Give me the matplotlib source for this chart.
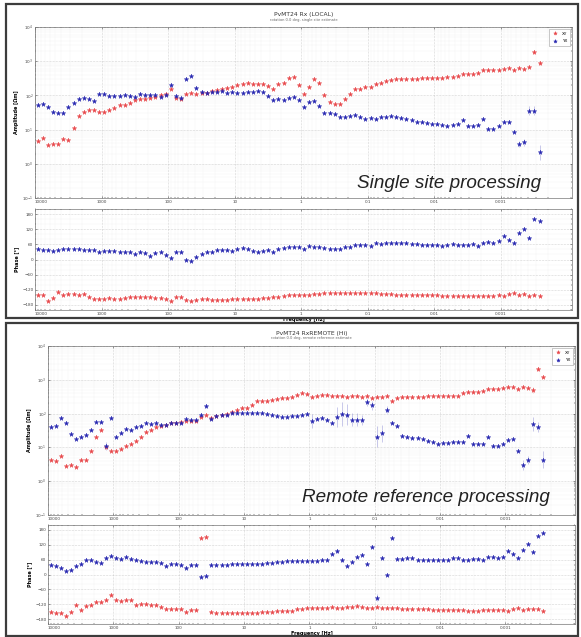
import numpy as np
import matplotlib.pyplot as plt
from matplotlib.patches import Rectangle
from matplotlib.colors import to_rgba
from matplotlib.ticker import LogLocator, NullFormatter, FixedLocator, MultipleLocator

W, H = 581, 637

# frequencies [Hz], same grid for both processing runs
freq = [9120, 7640, 6400, 5360, 4490, 3760, 3150, 2640, 2210, 1850, 1550, 1300, 1090,
        912, 764, 640, 536, 449, 376, 315, 264, 221, 185, 155, 130, 109,
        91.2, 76.4, 64.0, 53.6, 44.9, 37.6, 31.5, 26.4, 22.1, 18.5, 15.5, 13.0, 10.9,
        9.12, 7.64, 6.40, 5.36, 4.49, 3.76, 3.15, 2.64, 2.21, 1.85, 1.55, 1.30, 1.09,
        0.912, 0.764, 0.640, 0.536, 0.449, 0.376, 0.315, 0.264, 0.221, 0.185, 0.155, 0.130, 0.109,
        0.0912, 0.0764, 0.0640, 0.0536, 0.0449, 0.0376, 0.0315, 0.0264, 0.0221, 0.0185, 0.0155, 0.0130, 0.0109,
        0.00912, 0.00764, 0.00640, 0.00536, 0.00449, 0.00376, 0.00315, 0.00264, 0.00221, 0.00185, 0.00155, 0.00130, 0.00109,
        9.12e-4, 7.64e-4, 6.40e-4, 5.36e-4, 4.49e-4, 3.76e-4, 3.15e-4, 2.64e-4]

# single site: log10 apparent resistivity
top_xy_rho = [0.66, 0.75, 0.54, 0.57, 0.58, 0.72, 0.71, 1.04, 1.41, 1.52, 1.56, 1.57, 1.52, 1.52, 1.57,
              1.64, 1.72, 1.73, 1.79, 1.87, 1.89, 1.90, 1.91, 1.96, 2.00, 2.03, 2.20, 1.92, 1.90, 2.03,
              2.07, 2.05, 2.07, 2.07, 2.12, 2.15, 2.18, 2.21, 2.26, 2.30, 2.33, 2.37, 2.34, 2.34, 2.33,
              2.28, 2.19, 2.33, 2.37, 2.51,
              2.55, 2.30, 2.05, 2.26, 2.47, 2.37, 2.01, 1.81, 1.74, 1.74, 1.90, 2.04, 2.20, 2.18, 2.24,
              2.24, 2.32, 2.37, 2.42, 2.45, 2.49, 2.49, 2.48, 2.48, 2.49, 2.50, 2.51, 2.51, 2.51, 2.52,
              2.53, 2.53, 2.57, 2.62, 2.63, 2.64, 2.66, 2.73, 2.73, 2.74, 2.75, 2.77, 2.79, 2.73, 2.81,
              2.77, 2.83, 3.28, 2.94]
top_yx_rho = [1.72, 1.76, 1.65, 1.52, 1.49, 1.49, 1.65, 1.78, 1.89, 1.92, 1.90, 1.84, 2.05, 2.04, 1.97,
              1.99, 1.98, 2.01, 1.97, 1.95, 2.03, 2.00, 2.02, 2.02, 1.95, 2.01, 2.31, 1.98, 1.93, 2.48,
              2.58, 2.21, 2.11, 2.08, 2.10, 2.10, 2.12, 2.08, 2.10, 2.08, 2.08, 2.09, 2.10, 2.14, 2.11,
              1.97, 1.87, 1.89, 1.87, 1.92,
              1.96, 1.87, 1.65, 1.82, 1.84, 1.70, 1.49, 1.49, 1.46, 1.38, 1.36, 1.41, 1.43, 1.37, 1.31,
              1.34, 1.30, 1.37, 1.38, 1.39, 1.36, 1.35, 1.30, 1.27, 1.21, 1.22, 1.18, 1.17, 1.15, 1.14,
              1.11, 1.12, 1.15, 1.28, 1.10, 1.10, 1.12, 1.30, 1.03, 1.03, 1.10, 1.23, 1.22, 0.94, 0.58,
              0.63, 1.55, 1.55, 0.34]
# single site: phase [deg]
top_xy_phs = [-139, -140, -165, -154, -129, -141, -135, -136, -140, -135, -150, -156, -156, -156, -154,
              -156, -156, -152, -150, -150, -149, -150, -150, -154, -154, -156, -164, -150, -149, -161,
              -165, -160, -158, -158, -160, -160, -160, -160, -157, -156, -156, -156, -157, -157, -154,
              -152, -149, -150, -145, -141,
              -139, -139, -141, -141, -135, -135, -131, -131, -132, -131, -131, -132, -132, -133, -132,
              -131, -133, -135, -136, -136, -139, -139, -139, -139, -140, -140, -140, -141, -141, -143,
              -143, -144, -144, -144, -145, -145, -144, -144, -143, -144, -141, -146, -137, -133, -141,
              -135, -144, -139, -144]
top_yx_phs = [40, 37, 37, 34, 38, 42, 41, 40, 40, 36, 36, 37, 30, 32, 33, 32, 30, 29, 29, 22,
              29, 24, 13, 26, 28, 16, 5, 28, 30, -3, -4, 9, 22, 28, 29, 36, 36, 38, 34, 42,
              44, 40, 32, 29, 32, 36, 29, 42, 46, 49,
              50, 48, 42, 53, 50, 50, 45, 42, 41, 42, 50, 50, 57, 57, 58, 55, 65, 63, 65, 65,
              65, 65, 66, 61, 61, 58, 57, 57, 57, 54, 58, 61, 57, 58, 59, 61, 55, 67, 70, 66,
              73, 92, 79, 65, 103, 119, 87, 161, 153]

# remote reference: log10 apparent resistivity
bot_xy_rho = [0.64, 0.60, 0.75, 0.44, 0.47, 0.43, 0.62, 0.62, 0.90, 1.30, 1.52, 1.01, 0.90, 0.88, 0.95,
              1.05, 1.11, 1.19, 1.32, 1.47, 1.52, 1.60, 1.64, 1.66, 1.72, 1.73, 1.74, 1.79, 1.78, 1.78,
              1.89, 1.95, 1.87, 1.93, 1.97, 1.99, 2.06, 2.12, 2.16, 2.16, 2.26, 2.36, 2.36, 2.38, 2.40,
              2.43, 2.46, 2.47, 2.50,
              2.55, 2.61, 2.58, 2.49, 2.53, 2.56, 2.55, 2.52, 2.52, 2.51, 2.49, 2.52, 2.51, 2.49, 2.53,
              2.47, 2.49, 2.50, 2.51, 2.36, 2.47, 2.48, 2.49, 2.49, 2.49, 2.50, 2.51, 2.51, 2.51, 2.52,
              2.52, 2.53, 2.53, 2.60, 2.63, 2.63, 2.65, 2.68, 2.73, 2.73, 2.73, 2.75, 2.80, 2.80, 2.74,
              2.80, 2.76, 2.70, 3.31, 3.08]
bot_yx_rho = [1.60, 1.64, 1.87, 1.73, 1.39, 1.25, 1.30, 1.36, 1.52, 1.74, 1.74, 1.05, 1.87, 1.32, 1.42,
              1.54, 1.51, 1.61, 1.63, 1.72, 1.70, 1.71, 1.66, 1.66, 1.73, 1.73, 1.73, 1.85, 1.81, 1.81,
              1.97, 2.22, 1.85, 1.93, 1.95, 1.97, 2.01, 2.02, 2.01, 2.02, 2.02, 2.03, 2.02, 2.00, 1.97,
              1.93, 1.91, 1.90, 1.94,
              1.93, 1.97, 1.99, 1.78, 1.84, 1.87, 1.81, 1.72, 1.91, 1.99, 1.97, 1.82, 1.82, 1.82, 2.34,
              2.24, 1.32, 1.42, 2.12, 1.72, 1.63, 1.35, 1.32, 1.29, 1.29, 1.25, 1.20, 1.17, 1.10, 1.13,
              1.14, 1.15, 1.15, 1.15, 1.35, 1.09, 1.09, 1.11, 1.30, 1.03, 1.03, 1.11, 1.23, 1.25, 0.90,
              0.49, 0.63, 1.70, 1.61, 0.63]
# remote reference: phase [deg]
bot_xy_phs = [-153, -155, -154, -167, -153, -124, -145, -128, -124, -112, -112, -103, -84, -104, -109,
              -105, -105, -123, -119, -120, -124, -123, -130, -141, -138, -141, -141, -151, -142, -142,
              146, 151, -153, -154, -156, -157, -157, -157, -157, -156, -156, -154, -153, -150, -150,
              -149, -148, -146, -146,
              -139, -138, -137, -137, -135, -134, -134, -131, -135, -135, -132, -132, -128, -132, -134,
              -134, -132, -134, -135, -137, -137, -138, -139, -139, -139, -141, -141, -142, -142, -142,
              -142, -143, -143, -145, -146, -148, -149, -145, -145, -145, -145, -143, -146, -139, -134,
              -143, -138, -139, -141, -148]
bot_yx_phs = [38, 34, 28, 13, 20, 36, 43, 57, 57, 51, 47, 66, 74, 66, 64, 69, 62, 57, 55, 50,
              51, 50, 48, 35, 42, 42, 39, 28, 39, 39, -11, -8, 38, 39, 39, 39, 42, 42, 42, 43,
              43, 44, 44, 46, 47, 50, 50, 53, 53,
              53, 53, 53, 55, 55, 57, 57, 82, 93, 60, 34, 51, 69, 77, 42, 113, -93, 68, -1, 146,
              61, 64, 68, 67, 60, 58, 58, 60, 60, 60, 60, 65, 65, 58, 60, 61, 64, 57, 69, 72,
              67, 72, 93, 84, 67, 99, 124, 89, 157, 169]

# error bar half widths (decades for resistivity, degrees for phase) at noisy points
top_xy_rho_err = {97: 0.06, 98: 0.05}
top_yx_rho_err = {94: 0.08, 95: 0.10, 96: 0.13, 97: 0.13, 98: 0.22}
bot_xy_rho_err = {96: 0.10, 97: 0.06}
bot_yx_rho_err = {11: 0.12, 30: 0.06, 31: 0.05, 52: 0.2, 57: 0.3, 58: 0.35, 59: 0.3, 60: 0.2,
                  61: 0.2, 62: 0.15, 63: 0.12, 64: 0.12, 65: 0.3, 66: 0.25, 67: 0.1,
                  94: 0.15, 95: 0.12, 96: 0.2, 97: 0.15, 98: 0.25}
bot_yx_phs_err = {57: 8, 58: 8, 65: 15}

freq_ticks = [1e4, 1e3, 1e2, 1e1, 1, 0.1, 0.01, 0.001]
freq_labels = ['10000', '1000', '100', '10', '1', '0.1', '0.01', '0.001']

RED = '#e8474a'
BLUE = '#2626b0'

fig = plt.figure(figsize=(W / 100, H / 100), dpi=100)


def px_axes(l, t, r, b):
    return fig.add_axes([l / W, 1 - b / H, (r - l) / W, (b - t) / H])


def frame(l, t, r, b):
    fig.patches.append(Rectangle((l / W, 1 - b / H), (r - l) / W, (b - t) / H,
                                 transform=fig.transFigure, fill=False, ec='#3c3c3c', lw=1.6))


def style(ax):
    ax.set_xscale('log')
    ax.set_xlim(1e4, 8.6e-5)
    ax.set_xticks(freq_ticks)
    ax.set_xticklabels(freq_labels)
    ax.get_xticklabels()[0].set_ha('left')
    ax.xaxis.set_minor_locator(LogLocator(subs=np.arange(2, 10)))
    ax.xaxis.set_minor_formatter(NullFormatter())
    ax.tick_params(labelsize=3, length=1.5, width=0.4, pad=1.2, colors='#444',
                   top=True, right=True, direction='in')
    ax.tick_params(which='minor', length=0.8, width=0.3, top=True, right=True, direction='in')
    ax.grid(True, which='major', ls=':', lw=0.4, color='#b0b0b0')
    ax.grid(True, which='minor', ls=':', lw=0.3, color='#e0e0e0')
    for s in ax.spines.values():
        s.set_linewidth(0.5)
        s.set_color('#777')


def errs(n, d):
    e = np.zeros(n)
    for i, v in d.items():
        e[i] = v
    return e


def plot_rho(ax, log_rho, err, color, label):
    rho = 10 ** np.array(log_rho)
    e = errs(len(rho), err)
    yerr = [rho - rho / 10 ** e, rho * 10 ** e - rho]
    ax.errorbar(freq, rho, yerr=yerr, fmt='*', ms=3.4, mew=0.3, color=color,
                ecolor=to_rgba(color, 0.35), elinewidth=0.5, label=label)


def plot_phs(ax, phs, err, color):
    e = errs(len(phs), err)
    ax.errorbar(freq, phs, yerr=e, fmt='*', ms=3.4, mew=0.3, color=color,
                ecolor=to_rgba(color, 0.35), elinewidth=0.5)


def panel(box_rho, box_phs, xy_rho, yx_rho, xy_phs, yx_phs, errs_rho, err_phs, title, subtitle, title_y, note, note_xy):
    ax1 = px_axes(*box_rho)
    style(ax1)
    ax1.set_yscale('log')
    ax1.set_ylim(1e-1, 1e4)
    ax1.yaxis.set_major_locator(FixedLocator([1e-1, 1, 1e1, 1e2, 1e3, 1e4]))
    ax1.yaxis.set_minor_locator(LogLocator(subs=np.arange(2, 10)))
    ax1.yaxis.set_minor_formatter(NullFormatter())
    plot_rho(ax1, xy_rho, errs_rho[0], RED, 'XY')
    plot_rho(ax1, yx_rho, errs_rho[1], BLUE, 'YX')
    ax1.set_ylabel('Amplitude [\u03a9m]', fontsize=3.5, fontweight='bold', labelpad=2)
    leg = ax1.legend(loc='upper right', fontsize=3, markerscale=0.8, handletextpad=0.6,
                     borderpad=0.6, labelspacing=0.9, frameon=True, fancybox=False)
    leg.get_frame().set_linewidth(0.4)
    leg.get_frame().set_edgecolor('#888')

    ax2 = px_axes(*box_phs)
    style(ax2)
    ax2.set_ylim(-200, 200)
    ax2.yaxis.set_major_locator(FixedLocator([-180, -120, -60, 0, 60, 120, 180]))
    ax2.yaxis.set_minor_locator(MultipleLocator(20))
    plot_phs(ax2, xy_phs, {}, RED)
    plot_phs(ax2, yx_phs, err_phs, BLUE)
    ax2.set_ylabel('Phase [\u00b0]', fontsize=3.5, fontweight='bold', labelpad=2)
    ax2.set_xlabel('Frequency [Hz]', fontsize=3.5, fontweight='bold', labelpad=1)

    cx = (box_rho[0] + box_rho[2]) / 2 / W
    fig.text(cx, 1 - title_y / H, title, fontsize=4.3, ha='center', va='center', color='#333')
    fig.text(cx, 1 - (title_y + 5.5) / H, subtitle, fontsize=2.6, ha='center', va='center', color='#666')
    fig.text(note_xy[0] / W, 1 - note_xy[1] / H, note, fontsize=13.6, style='italic',
             family='Liberation Sans', ha='center', va='center', color='#222')


frame(6, 4, 578, 318)
frame(6, 323, 578, 636)

panel((35, 27, 572, 198), (35, 209, 572, 310), top_xy_rho, top_yx_rho, top_xy_phs, top_yx_phs,
      (top_xy_rho_err, top_yx_rho_err), {}, 'PvMT24 Rx (LOCAL)',
      'rotation 0.0 deg, single site estimate', 14.5, 'Single site processing', (449, 183))
panel((48, 346, 575, 515), (48, 525, 575, 624), bot_xy_rho, bot_yx_rho, bot_xy_phs, bot_yx_phs,
      (bot_xy_rho_err, bot_yx_rho_err), bot_yx_phs_err, 'PvMT24 RxREMOTE (Hi)',
      'rotation 0.0 deg, remote reference estimate', 333, 'Remote reference processing', (426, 497))

fig.savefig('out.png', dpi=100)
